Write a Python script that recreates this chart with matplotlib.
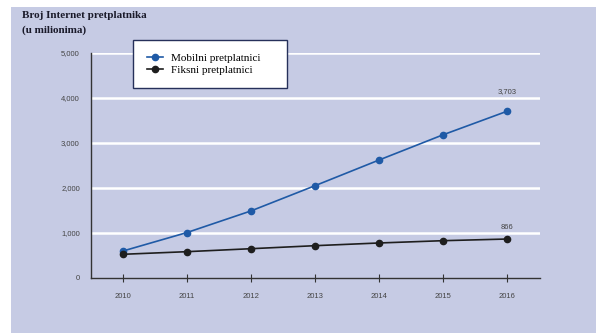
import matplotlib.pyplot as plt
from matplotlib.patches import Rectangle
from matplotlib.lines import Line2D

years = [2010, 2011, 2012, 2013, 2014, 2015, 2016]
mobile = [600, 1010, 1490, 2050, 2620, 3180, 3703]
fixed = [527, 585, 651, 718, 778, 829, 866]
yticks = [0, 1000, 2000, 3000, 4000, 5000]
ytick_labels = ['0', '1,000', '2,000', '3,000', '4,000', '5,000']

BG = '#c6cbe4'
BLUE = '#1f5aa6'
BLACK = '#1e1e1e'

fig = plt.figure(figsize=(5.98, 3.33), dpi=100)
fig.patch.set_facecolor('white')
W, H = 598, 333

# lavender panel behind everything
fig.patches.append(Rectangle((11 / W, 0), (596 - 11) / W, 1 - 7 / H,
                             transform=fig.transFigure, facecolor=BG,
                             edgecolor='none', zorder=-5))

ax = fig.add_axes([91 / W, 1 - 278 / H, (540 - 91) / W, (278 - 53) / H])
ax.patch.set_alpha(0)

for y in yticks[1:]:
    ax.axhline(y, color='white', lw=1.8, zorder=1)

ax.plot(years, mobile, color=BLUE, lw=1.2, marker='o', ms=4.5, zorder=3)
ax.plot(years, fixed, color=BLACK, lw=1.2, marker='o', ms=4.5, zorder=3)

ax.set_xlim(2009.5, 2016.52)
ax.set_ylim(0, 5000)
ax.set_xticks(years)
ax.set_xticklabels([str(y) for y in years])
ax.set_yticks(yticks)
ax.set_yticklabels(ytick_labels)

for s in ['top', 'right']:
    ax.spines[s].set_visible(False)
for s in ['left', 'bottom']:
    ax.spines[s].set_color('#333333')
    ax.spines[s].set_linewidth(1.0)

ax.tick_params(axis='x', direction='inout', length=6, width=0.8, color='#333333',
               labelsize=5.5, labelcolor='#444444', pad=8)
ax.tick_params(axis='y', length=0, labelsize=5.5, labelcolor='#444444', pad=8)
for lbl in ax.get_xticklabels() + ax.get_yticklabels():
    lbl.set_family('Liberation Sans')

ax.annotate('3,703', (years[-1], mobile[-1]), xytext=(0, 14.4), textcoords='offset points',
            ha='center', va='center', fontsize=5.5, color='#444444', family='Liberation Sans')
ax.annotate('866', (years[-1], fixed[-1]), xytext=(0, 8.6), textcoords='offset points',
            ha='center', va='center', fontsize=5.5, color='#444444', family='Liberation Sans')

# legend box
fig.patches.append(Rectangle((133 / W, 1 - 88 / H), (287 - 133) / W, (88 - 40) / H,
                             transform=fig.transFigure, facecolor='white',
                             edgecolor='#26305a', lw=1.0, zorder=4))
handles = [Line2D([], [], color=BLUE, lw=1.2, marker='o', ms=4.5),
           Line2D([], [], color=BLACK, lw=1.2, marker='o', ms=4.5)]
leg = fig.legend(handles, ['Mobilni pretplatnici', 'Fiksni pretplatnici'],
                 loc='upper left', bbox_to_anchor=(147 / W, 1 - 53 / H), frameon=False,
                 prop={'family': 'Liberation Serif', 'size': 8}, handlelength=1.4,
                 handletextpad=0.8, labelspacing=0.2, borderpad=0, borderaxespad=0)
leg.set_zorder(6)

fig.text(22 / W, 1 - 15 / H, 'Broj Internet pretplatnika', ha='left', va='center',
         fontsize=8, fontweight='bold', family='Liberation Serif', color='#1a1a2a')
fig.text(22 / W, 1 - 30 / H, '(u milionima)', ha='left', va='center',
         fontsize=8, fontweight='bold', family='Liberation Serif', color='#1a1a2a')

fig.savefig('out.png', dpi=100)
